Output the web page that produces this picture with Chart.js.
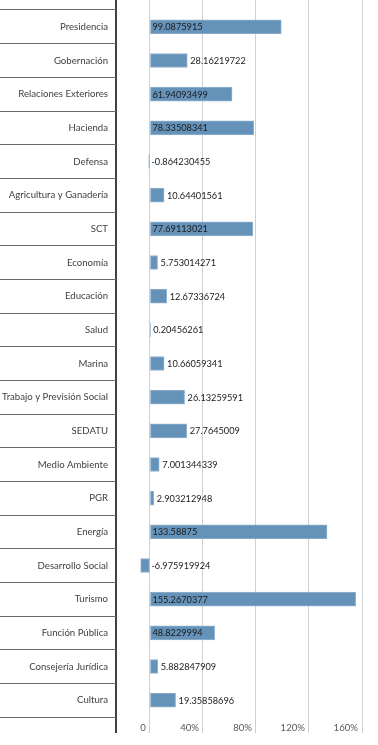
<!DOCTYPE html>
<html>
<head>
<meta charset="utf-8">
<script src="https://cdn.jsdelivr.net/npm/chart.js@4"></script>
<style>
  body { margin: 0; background: #fff; }
  #wrap { width: 378px; height: 745px; position: relative; }
</style>
</head>
<body>
<div id="wrap"><canvas id="chart"></canvas></div>
<script>
// Categories (top to bottom) and values (%)
const categories = [
    'Presidencia', 'Gobernación', 'Relaciones Exteriores', 'Hacienda', 'Defensa',
    'Agricultura y Ganadería', 'SCT', 'Economía', 'Educación', 'Salud', 'Marina',
    'Trabajo y Previsión Social', 'SEDATU', 'Medio Ambiente', 'PGR', 'Energía',
    'Desarrollo Social', 'Turismo', 'Función Pública', 'Consejería Jurídica', 'Cultura'
];
const values = [
    99.0875915, 28.16219722, 61.94093499, 78.33508341, -0.864230455,
    10.64401561, 77.69113021, 5.753014271, 12.67336724, 0.20456261, 10.66059341,
    26.13259591, 27.7645009, 7.001344339, 2.903212948, 133.58875,
    -6.975919924, 155.2670377, 48.8229994, 5.882847909, 19.35858696
];
const labelTexts = [
    '99.0875915', '28.16219722', '61.94093499', '78.33508341', '-0.864230455',
    '10.64401561', '77.69113021', '5.753014271', '12.67336724', '0.20456261', '10.66059341',
    '26.13259591', '27.7645009', '7.001344339', '2.903212948', '133.58875',
    '-6.975919924', '155.2670377', '48.8229994', '5.882847909', '19.35858696'
];
const xTicks = [0, 40, 80, 120, 160];
const xMin = -25.6;
const xMax = 160;

const FONT = 'Lato, "Open Sans", sans-serif';

function setTicks(axis) {
    axis.ticks = [xMin].concat(xTicks).map(v => ({ value: v }));
}
const gridColor = ctx => (ctx.tick && ctx.tick.value === xMin) ? '#404040' : '#d0d0d0';
const gridWidth = ctx => (ctx.tick && ctx.tick.value === xMin) ? 2 : 1;

// value labels: at the base when they fit in the bar, else just past the end
const valueLabels = {
    id: 'valueLabels',
    afterDatasetsDraw(chart) {
        const ctx = chart.ctx;
        const meta = chart.getDatasetMeta(0);
        ctx.save();
        ctx.font = '9.2px ' + FONT;
        ctx.fillStyle = '#1a1a1a';
        ctx.textBaseline = 'middle';
        ctx.textAlign = 'left';
        meta.data.forEach((bar, i) => {
            const text = labelTexts[i];
            const w = ctx.measureText(text).width;
            let x;
            if (values[i] < 0) {
                x = bar.base + 2;
            } else if (w + 4 <= bar.x - bar.base) {
                x = bar.base + 2;
            } else {
                x = bar.x + 3;
            }
            ctx.fillText(text, x, bar.y + 0.5);
        });
        ctx.restore();
    }
};

new Chart(document.getElementById('chart'), {
    type: 'bar',
    data: {
        labels: categories,
        datasets: [{
            data: values,
            backgroundColor: '#6592b8',
            borderColor: '#93b3cf',
            borderWidth: 1,
            borderSkipped: false,
            barThickness: 14
        }]
    },
    options: {
        indexAxis: 'y',
        responsive: true,
        maintainAspectRatio: false,
        animation: false,
        layout: { padding: { left: 0, right: 16, top: 0, bottom: 0 } },
        plugins: {
            legend: { display: false },
            tooltip: { enabled: false }
        },
        scales: {
            x: {
                position: 'bottom',
                min: xMin,
                max: xMax,
                afterBuildTicks: setTicks,
                afterFit: scale => { scale.height = 28; },
                border: { display: false },
                grid: {
                    color: gridColor,
                    lineWidth: gridWidth,
                    drawTicks: true,
                    tickLength: 16
                },
                ticks: {
                    align: 'end',
                    labelOffset: -4,
                    padding: -11,
                    color: '#595959',
                    font: { family: FONT, size: 9.6 },
                    maxRotation: 0,
                    autoSkip: false,
                    callback: v => v === xMin ? '' : (v === 0 ? '0' : v + '%')
                }
            },
            x2: {
                position: 'top',
                min: xMin,
                max: xMax,
                afterBuildTicks: setTicks,
                border: { display: false },
                grid: {
                    color: gridColor,
                    lineWidth: gridWidth,
                    drawOnChartArea: false,
                    tickLength: 10
                },
                ticks: { display: false }
            },
            y: {
                position: 'left',
                afterFit: scale => { scale.width = 116; },
                border: { display: false },
                grid: {
                    offset: true,
                    drawOnChartArea: false,
                    drawTicks: true,
                    tickLength: 116,
                    color: '#6a6a6a'
                },
                ticks: {
                    padding: -108,
                    color: '#404040',
                    font: { family: FONT, size: 9.6 },
                    autoSkip: false
                }
            }
        }
    },
    plugins: [valueLabels]
});
</script>
</body>
</html>
